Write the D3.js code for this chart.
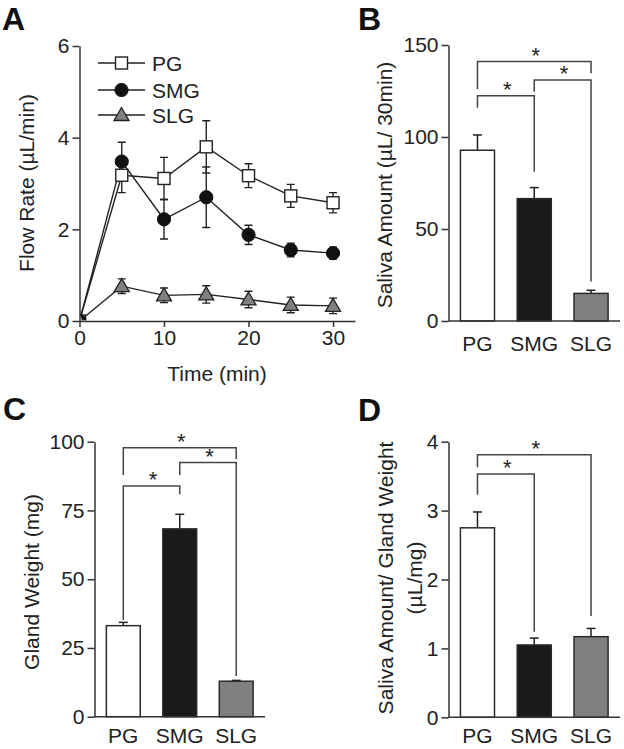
<!DOCTYPE html>
<html><head><meta charset="utf-8">
<script src="https://cdn.jsdelivr.net/npm/d3@7"></script>
<style>
html,body{margin:0;padding:0;background:#fff;}
svg{display:block;font-family:"Liberation Sans",Arial,Helvetica,sans-serif;}
</style></head>
<body>
<svg id="chart" width="624" height="749"></svg>
<script>
// ---------- DATA ----------
const times = [0, 5, 10, 15, 20, 25, 30];
const pgRate  = [0, 3.18, 3.11, 3.80, 3.17, 2.73, 2.58];
const pgErr   = [0, 0.38, 0.46, 0.57, 0.26, 0.25, 0.22];
const smgRate = [0, 3.48, 2.22, 2.70, 1.88, 1.55, 1.48];
const smgErr  = [0, 0.42, 0.43, 0.66, 0.21, 0.15, 0.13];
const slgRate = [0, 0.76, 0.56, 0.58, 0.47, 0.35, 0.33];
const slgErr  = [0, 0.16, 0.16, 0.19, 0.18, 0.17, 0.17];
const rateTicks = [0, 2, 4, 6];
const timeTicks = [0, 10, 20, 30];

const glands = ["PG", "SMG", "SLG"];
const salivaAmount = [92.8, 66.5, 15.0];
const salivaErr    = [8.3, 6.0, 1.7];
const salivaTicks  = [0, 50, 100, 150];

const glandWeight    = [33.1, 68.3, 12.9];
const glandWeightErr = [1.2, 5.3, 0.3];
const weightTicks    = [0, 25, 50, 75, 100];

const ratio      = [2.75, 1.05, 1.17];
const ratioErr   = [0.23, 0.10, 0.12];
const ratioTicks = [0, 1, 2, 3, 4];

// significance brackets: [from, to, level, left leg end, right leg end] (data units)
const bracketsB = [["PG","SLG",141.0,125.9,134.6],["SMG","SLG",131.0,124.6,21.4],["PG","SMG",122.4,115.9,81.1]];
const bracketsC = [["PG","SLG",97.8,87.9,93.6],["SMG","SLG",92.4,87.9,14.8],["PG","SMG",83.9,35.2,80.9]];
const bracketsD = [["PG","SLG",3.81,3.63,1.47],["PG","SMG",3.53,3.23,1.24]];

// ---------- STYLE ----------
const ink = "#222";
const axisInk = "#333";
const fills = {PG:"#ffffff", SMG:"#1a1a1a", SLG:"#808080"};
const FS = 21;
const FF = "'Liberation Sans',Arial,Helvetica,sans-serif";

const svg = d3.select("#chart");

function panelLetter(t, x, y){
  svg.append("text").attr("x", x).attr("y", y).attr("font-size", 32)
    .attr("font-weight", "bold").attr("fill", "#111").text(t);
}

function yAxis(scale, ticks, x){
  const g = svg.append("g").attr("transform", `translate(${x},0)`)
    .call(d3.axisLeft(scale).tickValues(ticks).tickFormat(d3.format("d"))
      .tickSize(7).tickPadding(3).tickSizeOuter(0));
  g.select(".domain").attr("stroke", axisInk).attr("stroke-width", 1.5);
  g.selectAll(".tick line").attr("stroke", axisInk).attr("stroke-width", 1.5);
  g.selectAll(".tick text").attr("font-size", FS).attr("fill", ink).attr("font-family", FF);
  return g;
}

function rotTitle(lines, x, y){
  const t = svg.append("text").attr("transform", `translate(${x},${y}) rotate(-90)`)
    .attr("text-anchor", "middle").attr("font-size", FS).attr("fill", ink);
  lines.forEach((l, i) => t.append("tspan").attr("x", 0).attr("dy", i === 0 ? 0 : 29).text(l));
}

// ---------- PANEL A ----------
panelLetter("A", 2, 30);
const xA = d3.scaleLinear().domain([0, 32.6]).range([79.5, 355]);
const yA = d3.scaleLinear().domain([0, 6]).range([321, 46]);

yAxis(yA, rateTicks, 79.5);
const gxA = svg.append("g").attr("transform", "translate(0,321)")
  .call(d3.axisBottom(xA).tickValues(timeTicks).tickFormat(d3.format("d"))
    .tickSize(6).tickPadding(3).tickSizeOuter(0));
gxA.select(".domain").attr("stroke", axisInk).attr("stroke-width", 1.5);
gxA.selectAll(".tick line").attr("stroke", axisInk).attr("stroke-width", 1.5);
gxA.selectAll(".tick text").attr("font-size", FS).attr("fill", ink).attr("font-family", FF);

rotTitle(["Flow Rate (\u00b5L/min)"], 34, 183);
svg.append("text").attr("x", 217).attr("y", 381).attr("text-anchor", "middle")
  .attr("font-size", FS).attr("fill", ink).text("Time (min)");

svg.append("clipPath").attr("id", "clipA").append("rect")
  .attr("x", 80.3).attr("y", 0).attr("width", 300).attr("height", 320.2);

const plotA = svg.append("g").attr("clip-path", "url(#clipA)");

const series = [
  {name:"PG", vals:pgRate, errs:pgErr, shape:"square"},
  {name:"SMG", vals:smgRate, errs:smgErr, shape:"circle"},
  {name:"SLG", vals:slgRate, errs:slgErr, shape:"triangle"}
];

function marker(g, shape, x, y){
  if (shape === "square") {
    g.append("rect").attr("x", x - 6).attr("y", y - 6).attr("width", 12).attr("height", 12)
      .attr("fill", "#fff").attr("stroke", ink).attr("stroke-width", 1.4);
  } else if (shape === "circle") {
    g.append("circle").attr("cx", x).attr("cy", y).attr("r", 6.6)
      .attr("fill", "#111").attr("stroke", "#111").attr("stroke-width", 1);
  } else {
    g.append("path").attr("d", `M${x},${y-7.5}L${x+7.5},${y+5.5}L${x-7.5},${y+5.5}Z`)
      .attr("fill", fills.SLG).attr("stroke", ink).attr("stroke-width", 1.3);
  }
}

const line = d3.line().x((d, i) => xA(times[i])).y(d => yA(d));
// error bars
series.forEach(s => {
  s.vals.forEach((v, i) => {
    const e = s.errs[i];
    if (!e) return;
    const x = xA(times[i]);
    plotA.append("line").attr("x1", x).attr("x2", x).attr("y1", yA(v - e)).attr("y2", yA(v + e))
      .attr("stroke", ink).attr("stroke-width", 1.4);
    [v - e, v + e].forEach(c => plotA.append("line").attr("x1", x - 4).attr("x2", x + 4)
      .attr("y1", yA(c)).attr("y2", yA(c)).attr("stroke", ink).attr("stroke-width", 1.4));
  });
});
// lines
series.forEach(s => {
  plotA.append("path").attr("d", line(s.vals)).attr("fill", "none")
    .attr("stroke", ink).attr("stroke-width", 1.4);
});
// markers
series.forEach(s => {
  s.vals.forEach((v, i) => marker(plotA, s.shape, xA(times[i]), yA(v)));
});

// legend
const legY = [63, 90, 115];
series.forEach((s, i) => {
  svg.append("line").attr("x1", 98).attr("x2", 145).attr("y1", legY[i]).attr("y2", legY[i])
    .attr("stroke", ink).attr("stroke-width", 1.4);
  marker(svg, s.shape, 121.5, legY[i]);
  svg.append("text").attr("x", 152).attr("y", legY[i] + 7.5).attr("font-size", FS)
    .attr("fill", ink).text(s.name);
});

// ---------- BAR PANELS ----------
function barPanel(opts){
  const {x0, x1, y0, y1, domainMax, vals, errs, ticks, brackets} = opts;
  const x = d3.scaleBand().domain(glands).range([x0, x1]).paddingInner(0.4).paddingOuter(0.21);
  const y = d3.scaleLinear().domain([0, domainMax]).range([y0, y1]);
  yAxis(y, ticks, x0);
  // error bars
  glands.forEach((gname, i) => {
    const cx = x(gname) + x.bandwidth() / 2;
    svg.append("line").attr("x1", cx).attr("x2", cx).attr("y1", y(vals[i])).attr("y2", y(vals[i] + errs[i]))
      .attr("stroke", ink).attr("stroke-width", 1.5);
    svg.append("line").attr("x1", cx - 4.5).attr("x2", cx + 4.5).attr("y1", y(vals[i] + errs[i]))
      .attr("y2", y(vals[i] + errs[i])).attr("stroke", ink).attr("stroke-width", 1.5);
  });
  // bars
  glands.forEach((gname, i) => {
    svg.append("rect").attr("x", x(gname)).attr("y", y(vals[i])).attr("width", x.bandwidth())
      .attr("height", y(0) - y(vals[i])).attr("fill", fills[gname])
      .attr("stroke", "#2a2a2a").attr("stroke-width", 1.5);
  });
  // x axis line
  svg.append("line").attr("x1", x0).attr("x2", x1).attr("y1", y0).attr("y2", y0)
    .attr("stroke", axisInk).attr("stroke-width", 1.5);
  // category labels
  glands.forEach(gname => {
    svg.append("text").attr("x", x(gname) + x.bandwidth() / 2).attr("y", Math.min(y0 + 30, 743))
      .attr("text-anchor", "middle").attr("font-size", FS).attr("fill", ink).text(gname);
  });
  // brackets
  brackets.forEach(b => {
    const xa = x(b[0]) + x.bandwidth() / 2, xb = x(b[1]) + x.bandwidth() / 2;
    const p = d3.path();
    p.moveTo(xa, y(b[3])); p.lineTo(xa, y(b[2])); p.lineTo(xb, y(b[2])); p.lineTo(xb, y(b[4]));
    svg.append("path").attr("d", p.toString()).attr("fill", "none")
      .attr("stroke", "#444").attr("stroke-width", 1.5);
    svg.append("text").attr("x", (xa + xb) / 2 + 1.5).attr("y", y(b[2]) + 1)
      .attr("text-anchor", "middle").attr("font-size", 22).attr("fill", ink).text("*");
  });
}

// Panel B
panelLetter("B", 358, 30);
barPanel({x0:448.5, x1:620, y0:321, y1:45, domainMax:150, vals:salivaAmount, errs:salivaErr,
  ticks:salivaTicks, brackets:bracketsB});
rotTitle(["Saliva Amount (\u00b5L/ 30min)"], 392, 185);

// Panel C
panelLetter("C", 3, 420);
barPanel({x0:94.5, x1:265, y0:716.7, y1:441.7, domainMax:100, vals:glandWeight, errs:glandWeightErr,
  ticks:weightTicks, brackets:bracketsC});
rotTitle(["Gland Weight (mg)"], 38.5, 582);

// Panel D
panelLetter("D", 358, 421);
barPanel({x0:448.5, x1:620, y0:717.3, y1:441.7, domainMax:4, vals:ratio, errs:ratioErr,
  ticks:ratioTicks, brackets:bracketsD});
rotTitle(["Saliva Amount/ Gland Weight", "(\u00b5L/mg)"], 393, 578);
</script>
</body></html>
